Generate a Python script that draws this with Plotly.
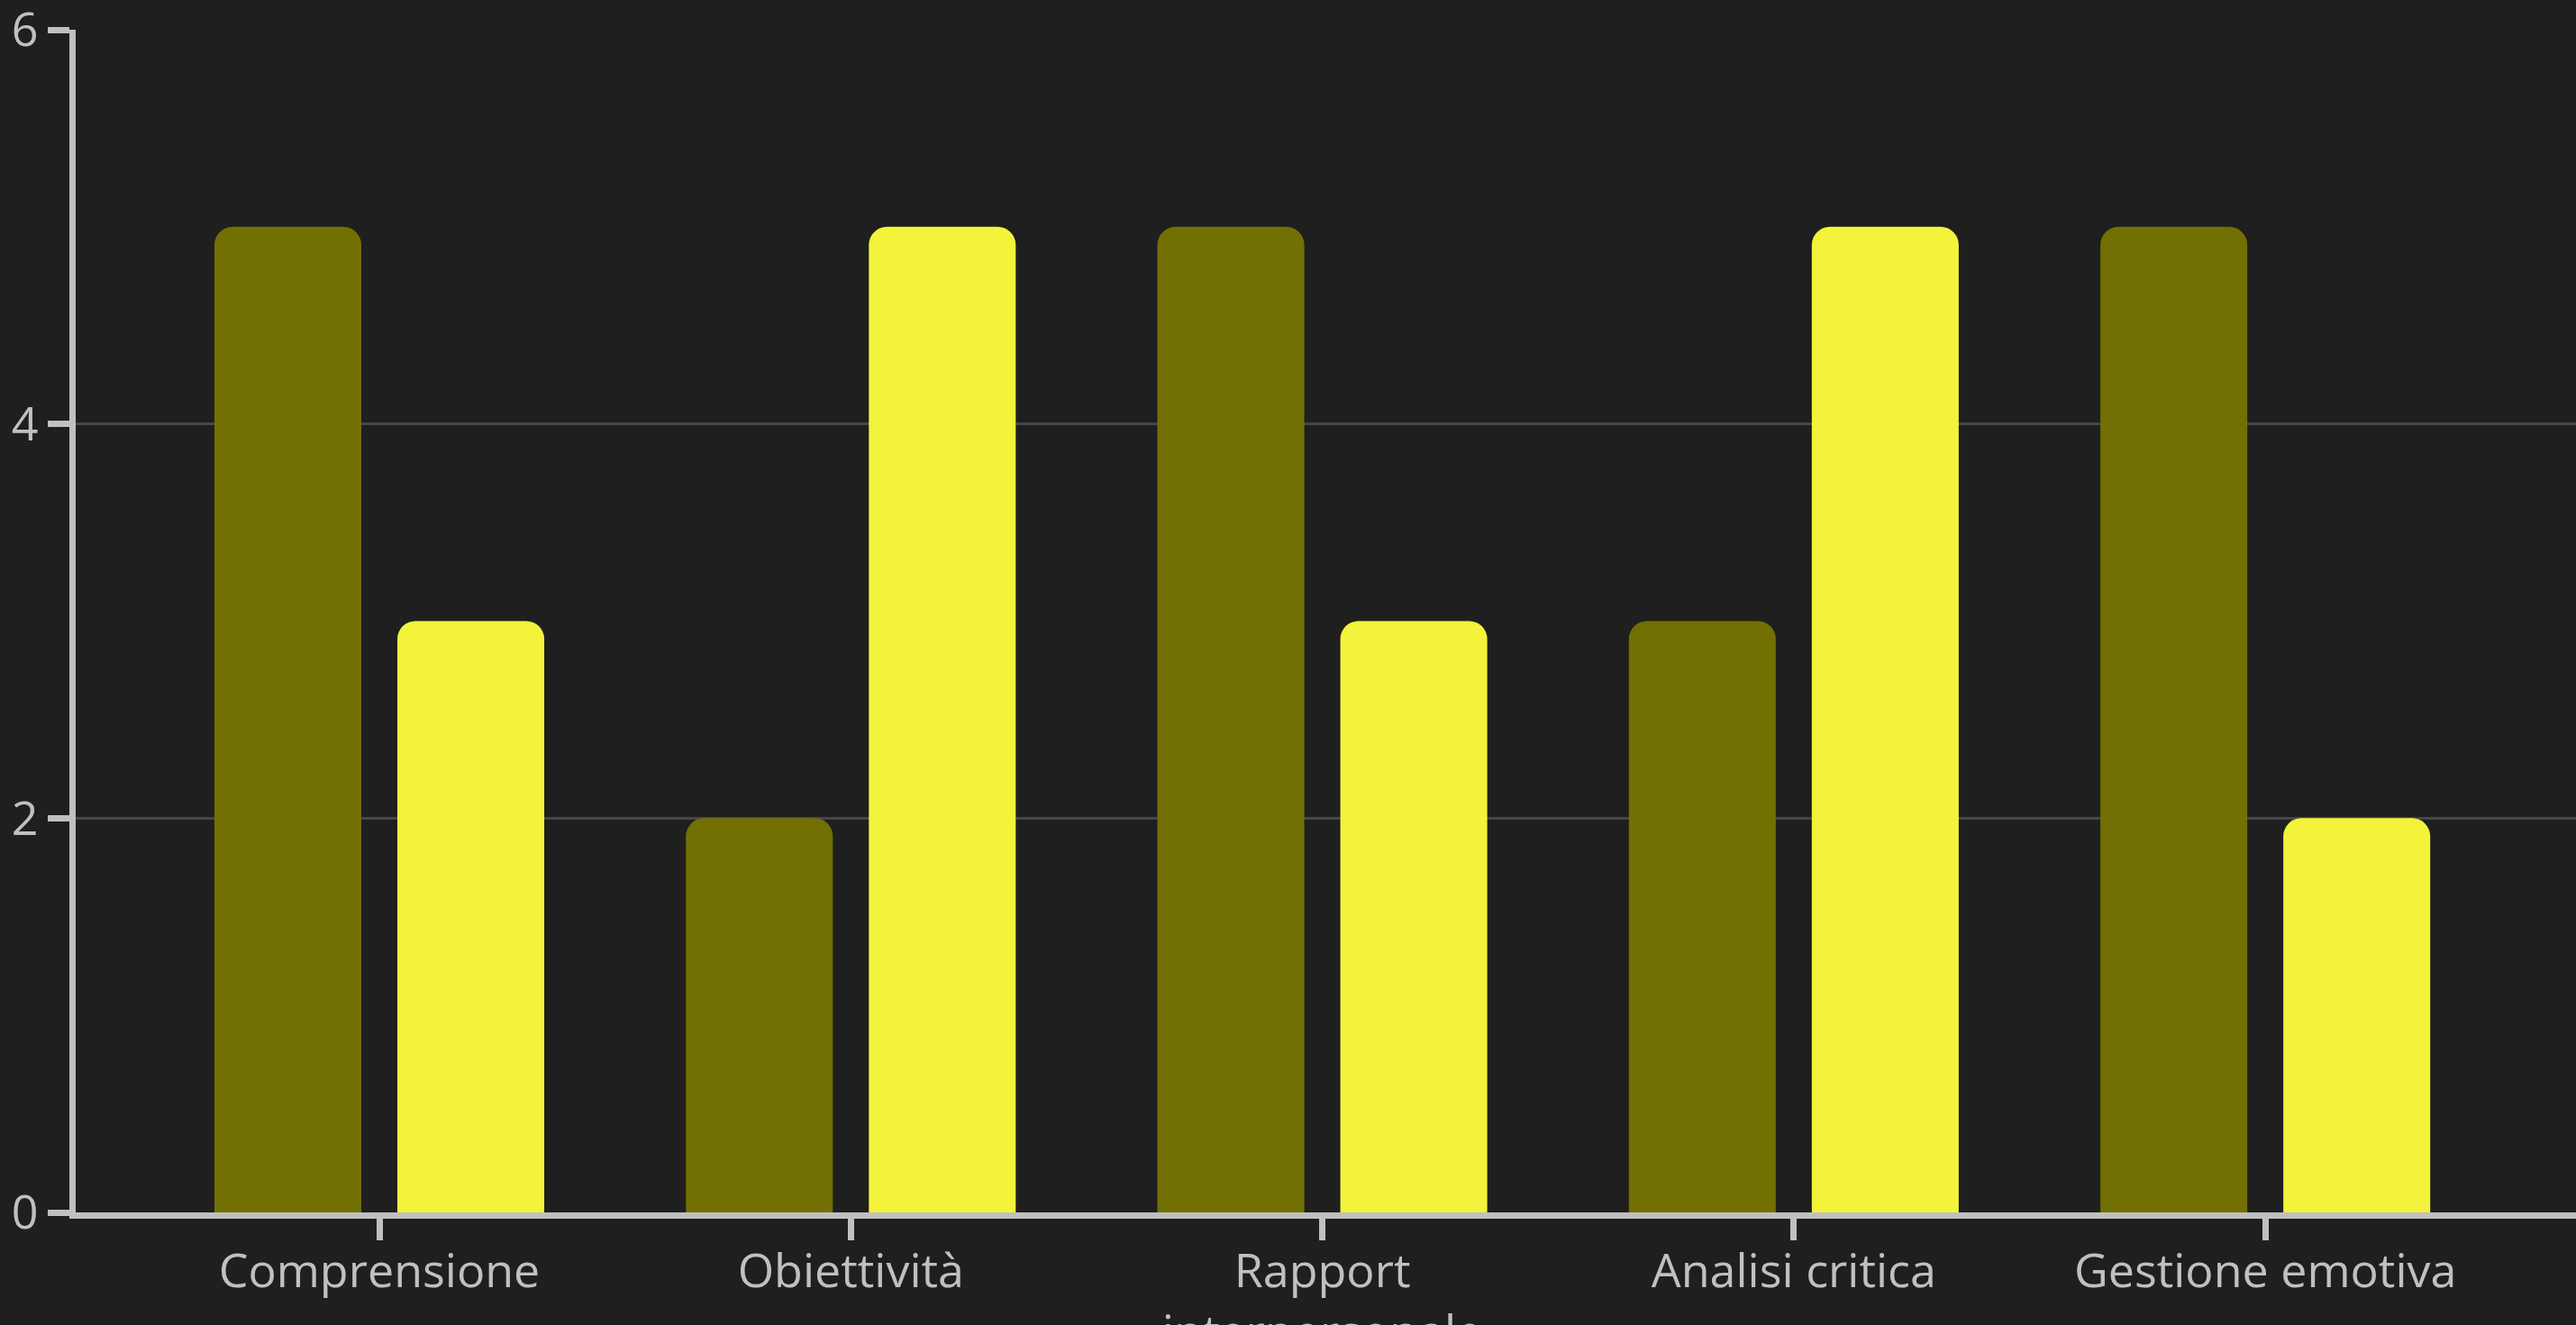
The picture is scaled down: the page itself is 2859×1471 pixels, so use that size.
import plotly.graph_objects as go

categories = ["Comprensione", "Obiettività", "Rapport<br>interpersonale", "Analisi critica", "Gestione emotiva"]
series_a = [5, 2, 5, 3, 5]
series_b = [3, 5, 3, 5, 2]
y_ticks = [0, 2, 4, 6]

BG = "#1f1f1f"
AXIS = "#c0c0c0"
TEXT = "#c0c0c0"
GRID = "#474747"
DARK = "#727003"
BRIGHT = "#f3f33b"

fig = go.Figure()
fig.add_trace(go.Bar(x=list(range(len(categories))), y=series_a, marker=dict(color=DARK, line=dict(width=0)), showlegend=False))
fig.add_trace(go.Bar(x=list(range(len(categories))), y=series_b, marker=dict(color=BRIGHT, line=dict(width=0)), showlegend=False))

fig.update_layout(
    width=2859, height=1471,
    margin=dict(l=84, r=0, t=33, b=125, autoexpand=False),
    paper_bgcolor=BG, plot_bgcolor=BG,
    barmode="group", bargap=0.224, bargroupgap=0.197,
    barcornerradius=20,
    font=dict(family="Open Sans", size=52, color=TEXT),
    showlegend=False,
)
fig.update_xaxes(
    range=[-0.644, 4.659], automargin=False,
    tickmode="array", tickvals=list(range(len(categories))), ticktext=categories,
    showline=True, linecolor=AXIS, linewidth=7,
    ticks="outside", ticklen=24, tickwidth=7, tickcolor=AXIS,
    showgrid=False, zeroline=False, ticklabelstandoff=-10,
    tickfont=dict(family="Open Sans", size=52, color=TEXT),
)
fig.update_yaxes(
    range=[0, 6], automargin=False,
    tickmode="array", tickvals=y_ticks, ticktext=[str(v) for v in y_ticks],
    showline=True, linecolor=AXIS, linewidth=7,
    ticks="outside", ticklen=24, tickwidth=7, tickcolor=AXIS,
    showgrid=True, gridcolor=GRID, gridwidth=2.5, zeroline=False,
    ticklabeloverflow="allow",
    tickfont=dict(family="Open Sans", size=52, color=TEXT),
)

fig.write_html("out.html")
